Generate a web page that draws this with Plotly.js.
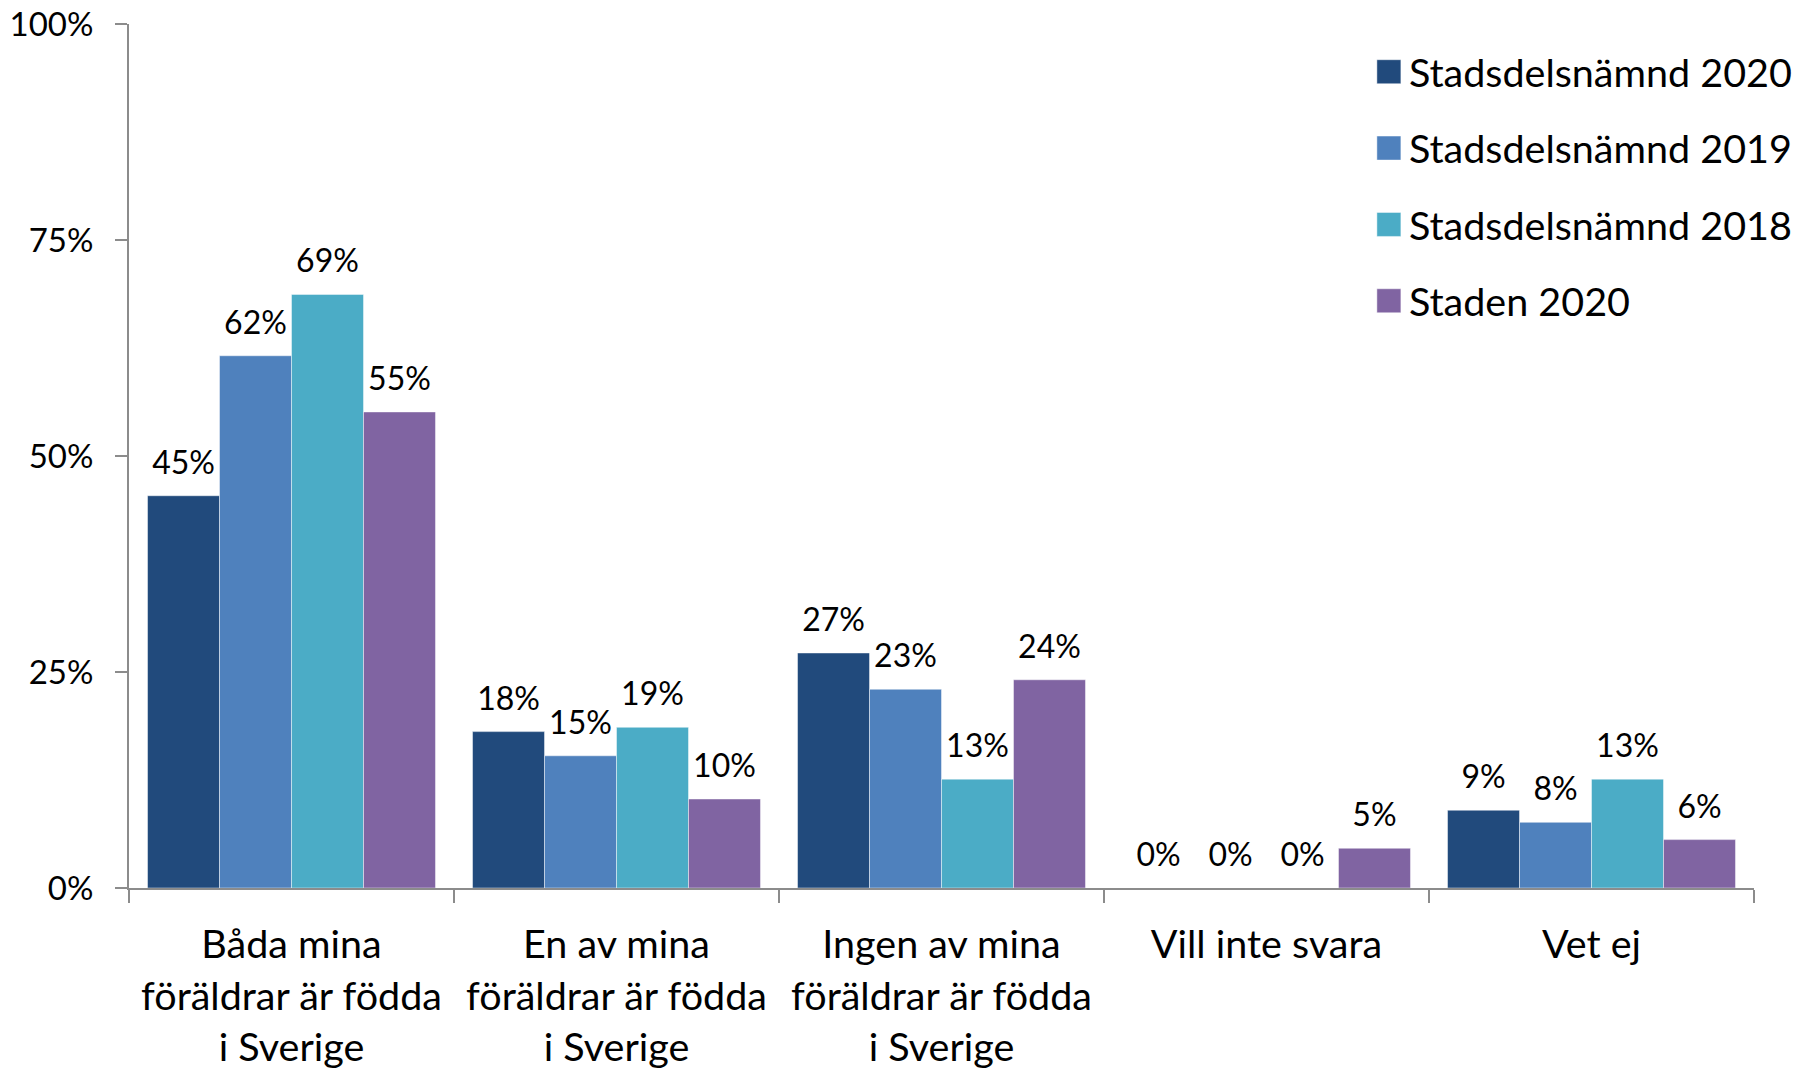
<!DOCTYPE html>
<html><head><meta charset="utf-8">
<script src="https://cdn.plot.ly/plotly-3.0.1.min.js"></script>
<style>html,body{margin:0;padding:0;background:#fff}</style>
</head><body>
<div id="chart" style="width:1810px;height:1068px"></div>
<script>
const categories = ['Båda mina<br>föräldrar är födda<br>i Sverige', 'En av mina<br>föräldrar är födda<br>i Sverige', 'Ingen av mina<br>föräldrar är födda<br>i Sverige', 'Vill inte svara', 'Vet ej'];
const seriesNames = ['Stadsdelsnämnd 2020', 'Stadsdelsnämnd 2019', 'Stadsdelsnämnd 2018', 'Staden 2020'];
const sdn2020 = [45.4, 18.1, 27.2, 0, 9.0];
const sdn2019 = [61.6, 15.3, 23.0, 0, 7.6];
const sdn2018 = [68.7, 18.6, 12.6, 0, 12.6];
const staden2020 = [55.1, 10.3, 24.1, 4.6, 5.6];
const yTicks = [0, 25, 50, 75, 100];
const yTickLabels = ['0%', '25%', '50%', '75%', '100%'];
const colors = ['#214A7C', '#4F81BD', '#4BACC6', '#8064A2'];

const FONT = 'Lato, "Open Sans", sans-serif';
const allSeries = [sdn2020, sdn2019, sdn2018, staden2020];
const traces = allSeries.map((vals, i) => ({
  type: 'bar',
  name: seriesNames[i],
  legendgroup: 'g' + i,
  x: categories,
  y: vals,
  marker: {color: colors[i], line: {color: 'rgba(255,255,255,0.45)', width: 1}},
  texttemplate: '%{y:.0f}%',
  textposition: 'outside',
  cliponaxis: false,
  textfont: {family: FONT, size: 32, color: '#000'},
  hoverinfo: 'skip'
}));

const layout = {
  width: 1810, height: 1068,
  margin: {l: 129, r: 54, t: 24, b: 180},
  paper_bgcolor: '#fff', plot_bgcolor: '#fff',
  barmode: 'group', bargap: 0.114, bargroupgap: 0,
  font: {family: FONT, color: '#000'},
  showlegend: true,
  legend: {x: 0.763, xanchor: 'left', y: 0.982, yanchor: 'top', font: {family: FONT, size: 39.5, color: '#000'},
           tracegroupgap: 22, bgcolor: 'rgba(0,0,0,0)', traceorder: 'grouped'},
  xaxis: {
    type: 'category', showgrid: false, zeroline: false,
    showline: true, linecolor: '#8c8c8c', linewidth: 2,
    ticks: 'outside', tickson: 'boundaries', ticklen: 13, tickwidth: 2, tickcolor: '#8c8c8c',
    tickfont: {family: FONT, size: 39.5, color: '#000'}, ticklabelstandoff: 21
  },
  yaxis: {
    range: [0, 100], tickmode: 'array', tickvals: yTicks, ticktext: yTickLabels, showgrid: false, zeroline: false,
    showline: true, linecolor: '#8c8c8c', linewidth: 2,
    ticks: 'outside', ticklen: 12, tickwidth: 2, tickcolor: '#8c8c8c',
    tickfont: {family: FONT, size: 33, color: '#000'}, ticklabelstandoff: 15
  }
};

Plotly.newPlot('chart', traces, layout, {staticPlot: true, displayModeBar: false}).then(() => {
  document.querySelectorAll('.legend .legendpoints path').forEach(p => p.setAttribute('d', 'M12,12H-12V-12H12Z'));
  document.querySelectorAll('.bars text.bartext').forEach(t => {
    const tr = t.getAttribute('transform') || '';
    t.setAttribute('transform', 'translate(0,-12) ' + tr);
  });
});
</script>
</body></html>
